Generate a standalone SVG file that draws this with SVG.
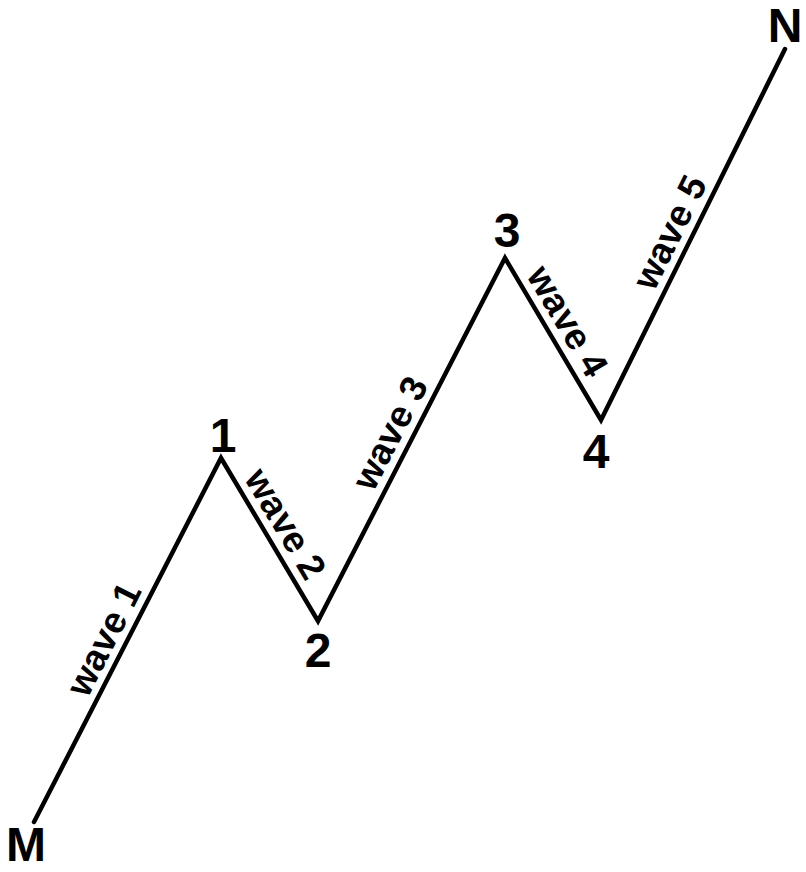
<svg xmlns="http://www.w3.org/2000/svg" width="806" height="872" viewBox="0 0 806 872">
  <style>
    .wave { fill: none; stroke: #000; stroke-width: 4.5; stroke-linejoin: miter; stroke-linecap: round; }
    .pt { font-family: "Liberation Sans", Arial, sans-serif; font-weight: bold; font-size: 48px; fill: #000; text-anchor: middle; }
    .lbl { font-family: "Liberation Sans", Arial, sans-serif; font-weight: bold; font-size: 37px; fill: #000; text-anchor: middle; }
  </style>
  <rect width="806" height="872" fill="#fff"/>
  <g id="connectors">
    <polyline class="wave" points="34,822 221,458 318,621 505,258 601,420 785,49"/>
  </g>
  <g id="node-M"><text class="pt" x="26" y="861">M</text></g>
  <g id="node-1"><text class="pt" x="223" y="452">1</text></g>
  <g id="node-2"><text class="pt" x="318" y="667">2</text></g>
  <g id="node-3"><text class="pt" x="507" y="247">3</text></g>
  <g id="node-4"><text class="pt" x="596" y="468">4</text></g>
  <g id="node-N"><text class="pt" x="785" y="42">N</text></g>
  <g id="labels">
    <text class="lbl" transform="translate(123,649) rotate(-63.2)" y="-9">wave 1</text>
    <text class="lbl" transform="translate(267,535) rotate(59)" y="-9">wave 2</text>
    <text class="lbl" transform="translate(409,443) rotate(-62.7)" y="-9">wave 3</text>
    <text class="lbl" transform="translate(549,332) rotate(59.35)" y="-9">wave 4</text>
    <text class="lbl" transform="translate(689,242) rotate(-63.6)" y="-9">wave 5</text>
  </g>
</svg>
